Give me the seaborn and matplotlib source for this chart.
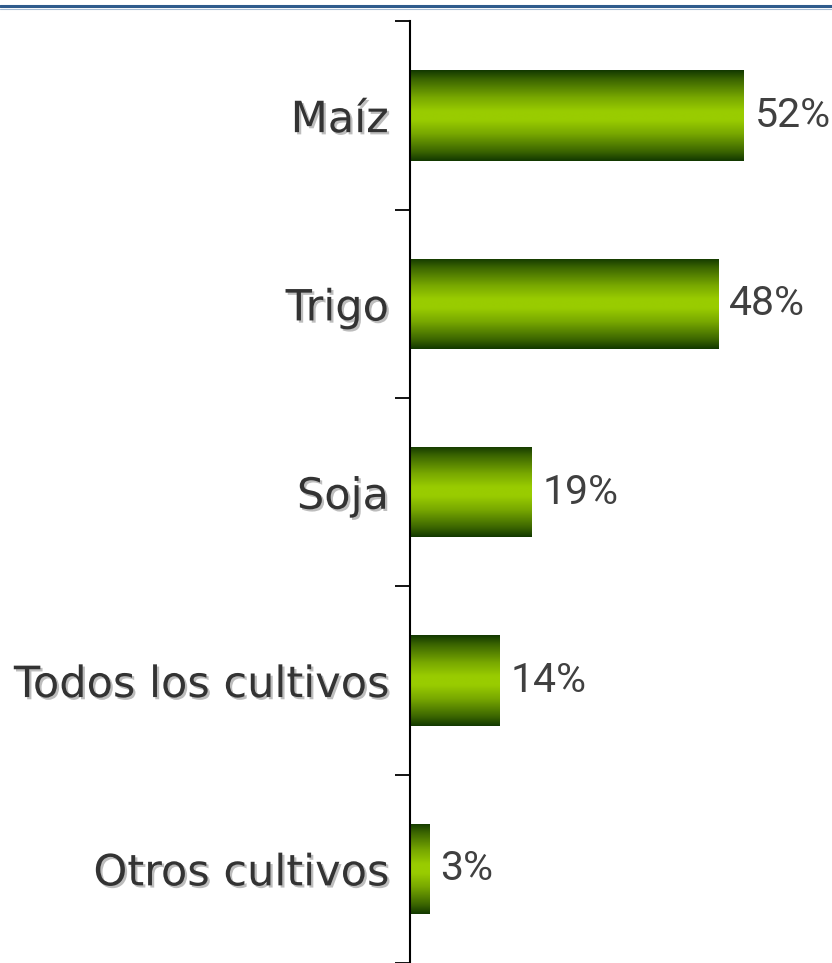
import numpy as np
import pandas as pd
import matplotlib
matplotlib.use("Agg")
import matplotlib.pyplot as plt
import matplotlib.patheffects as pe
from matplotlib.lines import Line2D
from matplotlib.colors import LinearSegmentedColormap
import seaborn as sns

categories = ["Maíz", "Trigo", "Soja", "Todos los cultivos", "Otros cultivos"]
values = [52, 48, 19, 14, 3]
value_labels = ["52%", "48%", "19%", "14%", "3%"]

df = pd.DataFrame({"cultivo": categories, "pct": values})

sns.set_theme(style="white")
plt.rcParams['font.family'] = ['DejaVu Sans']

W, H = 832, 963
fig = plt.figure(figsize=(W / 100, H / 100), dpi=100)
ax_left = 409.5 / W
ax_top = 1 - 21.5 / H
ax = fig.add_axes([ax_left, 0.0, 1 - ax_left, ax_top])

sns.barplot(data=df, x="pct", y="cultivo", orient="h", width=0.48,
            color="#99cc00", ax=ax, saturation=1)

xmax = (W - 409.5) / 6.42
ax.set_xlim(0, xmax)
ax.set_ylim(len(categories) - 0.5, -0.5)

cmap = LinearSegmentedColormap.from_list(
    "g", [(0.0, "#123800"), (0.1, "#3a6400"), (0.3, "#78a800"),
          (0.45, "#99cc00"), (0.55, "#99cc00"), (0.7, "#78a800"),
          (0.9, "#3a6400"), (1.0, "#123800")])
grad = np.linspace(0, 1, 256).reshape(-1, 1)
for p in list(ax.patches):
    x0, y0 = p.get_x(), p.get_y()
    w, h = p.get_width(), p.get_height()
    p.set_facecolor("none")
    p.set_edgecolor("none")
    im = ax.imshow(grad, cmap=cmap, aspect="auto",
                   extent=(x0, x0 + w, y0 + h, y0), origin="upper",
                   interpolation="bilinear", zorder=2)
    im.set_clip_path(p)

ax.set_xlim(0, xmax)
ax.set_ylim(len(categories) - 0.5, -0.5)

for i, (v, lab) in enumerate(zip(values, value_labels)):
    ax.text(v + 1.75, i, lab, va="center", ha="left", fontsize=29.5,
            color="#404040", family=["Roboto", "DejaVu Sans"])

for s in ["top", "right", "bottom"]:
    ax.spines[s].set_visible(False)
ax.spines["left"].set_color("black")
ax.spines["left"].set_linewidth(1.5)
ax.set_xticks([])
ax.set_yticks(np.arange(len(categories) + 1) - 0.5, minor=True)
ax.set_yticks(np.arange(len(categories)))
ax.set_yticklabels(categories)
ax.tick_params(axis="y", which="major", length=0, pad=15, labelsize=31,
               labelcolor="#333333")
ax.tick_params(axis="y", which="minor", left=True, length=11, width=1.3,
               color="black", direction="out")
ax.set_xlabel("")
ax.set_ylabel("")
for t in ax.get_yticklabels():
    t.set_path_effects([pe.SimplePatchShadow(offset=(1.6, -1.6),
                                             shadow_rgbFace="#bdbdbd",
                                             alpha=1.0),
                        pe.Normal()])

fig.add_artist(Line2D([0, 1], [1 - 6.5 / H, 1 - 6.5 / H],
                      transform=fig.transFigure, color="#2f5b8c", lw=2.2))
fig.add_artist(Line2D([0, 1], [1 - 8.8 / H, 1 - 8.8 / H],
                      transform=fig.transFigure, color="#a9bdd3", lw=0.8))

fig.savefig("out.png", dpi=100, facecolor="white")
